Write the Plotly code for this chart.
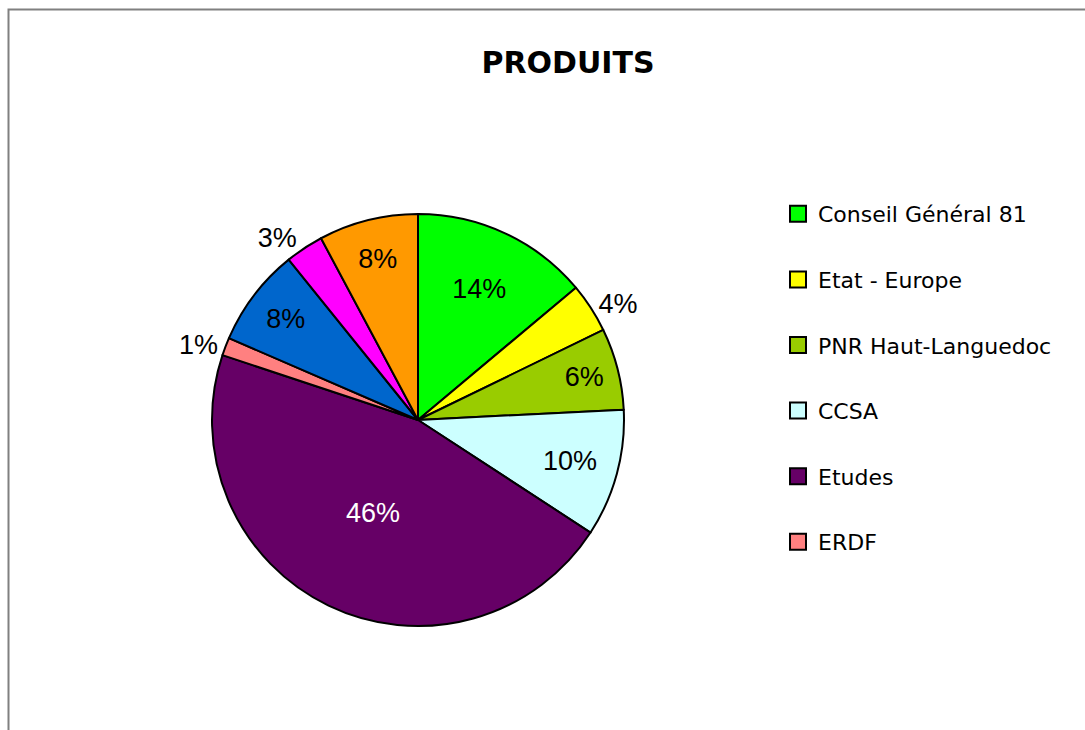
import plotly.graph_objects as go

# Data (percent shares), in pie order starting at 12 o'clock, clockwise
labels = ["Conseil Général 81", "Etat - Europe", "PNR Haut-Languedoc", "CCSA",
          "Etudes", "ERDF", "Autres 1", "Autres 2", "Autres 3"]
values = [13.9, 3.9, 6.4, 10.0, 45.9, 1.4, 7.7, 3.0, 7.8]
colors = ["#00FF00", "#FFFF00", "#99CC00", "#CCFFFF", "#660066",
          "#FF8080", "#0066CC", "#FF00FF", "#FF9900"]
text_pos = ["inside", "outside", "inside", "inside", "inside",
            "outside", "inside", "outside", "inside"]
text_colors = ["black", "black", "black", "black", "white",
               "black", "black", "black", "black"]
legend_labels = labels[:6]
legend_colors = colors[:6]

W, H = 1085, 730
cx, cy, r = 418, 420, 206

fig = go.Figure()
fig.add_trace(go.Pie(
    labels=labels, values=values, sort=False, direction="clockwise", rotation=0,
    marker=dict(colors=colors, line=dict(color="black", width=2)),
    texttemplate="%{percent:.0%}", textposition=text_pos,
    insidetextorientation="horizontal",
    textfont=dict(family="Liberation Sans, Arial, sans-serif", size=27, color=text_colors),
    showlegend=False,
    domain=dict(x=[(cx - r) / W, (cx + r) / W], y=[(H - cy - r) / H, (H - cy + r) / H]),
))

for i, (lab, col) in enumerate(zip(legend_labels, legend_colors)):
    fig.add_trace(go.Scatter(
        x=[None], y=[None], mode="markers", name=lab, legendgroup=f"g{i}",
        marker=dict(symbol="square", size=16, color=col, line=dict(color="black", width=2)),
    ))

fig.update_layout(
    width=W, height=H,
    margin=dict(l=0, r=0, t=0, b=0),
    paper_bgcolor="white", plot_bgcolor="white",
    xaxis=dict(visible=False), yaxis=dict(visible=False),
    title=dict(text="<b>PRODUITS</b>", x=568 / W, xanchor="center", y=1 - 62 / H, yanchor="middle",
               font=dict(family="Comic Sans MS, DejaVu Sans, sans-serif", size=30, color="black")),
    legend=dict(x=778 / W, xanchor="left", y=1 - 193 / H, yanchor="top",
                font=dict(family="Comic Sans MS, DejaVu Sans, sans-serif", size=22, color="black"),
                tracegroupgap=34, itemwidth=30, bgcolor="rgba(0,0,0,0)"),
    shapes=[dict(type="rect", xref="paper", yref="paper",
                 x0=8.5 / W, x1=1.05, y0=-0.05, y1=1 - 9.5 / H,
                 line=dict(color="#808080", width=2), fillcolor="rgba(0,0,0,0)", layer="below")],
)

fig.write_html("out.html", config={"displayModeBar": False},
               post_script="document.body.style.margin='0';")
